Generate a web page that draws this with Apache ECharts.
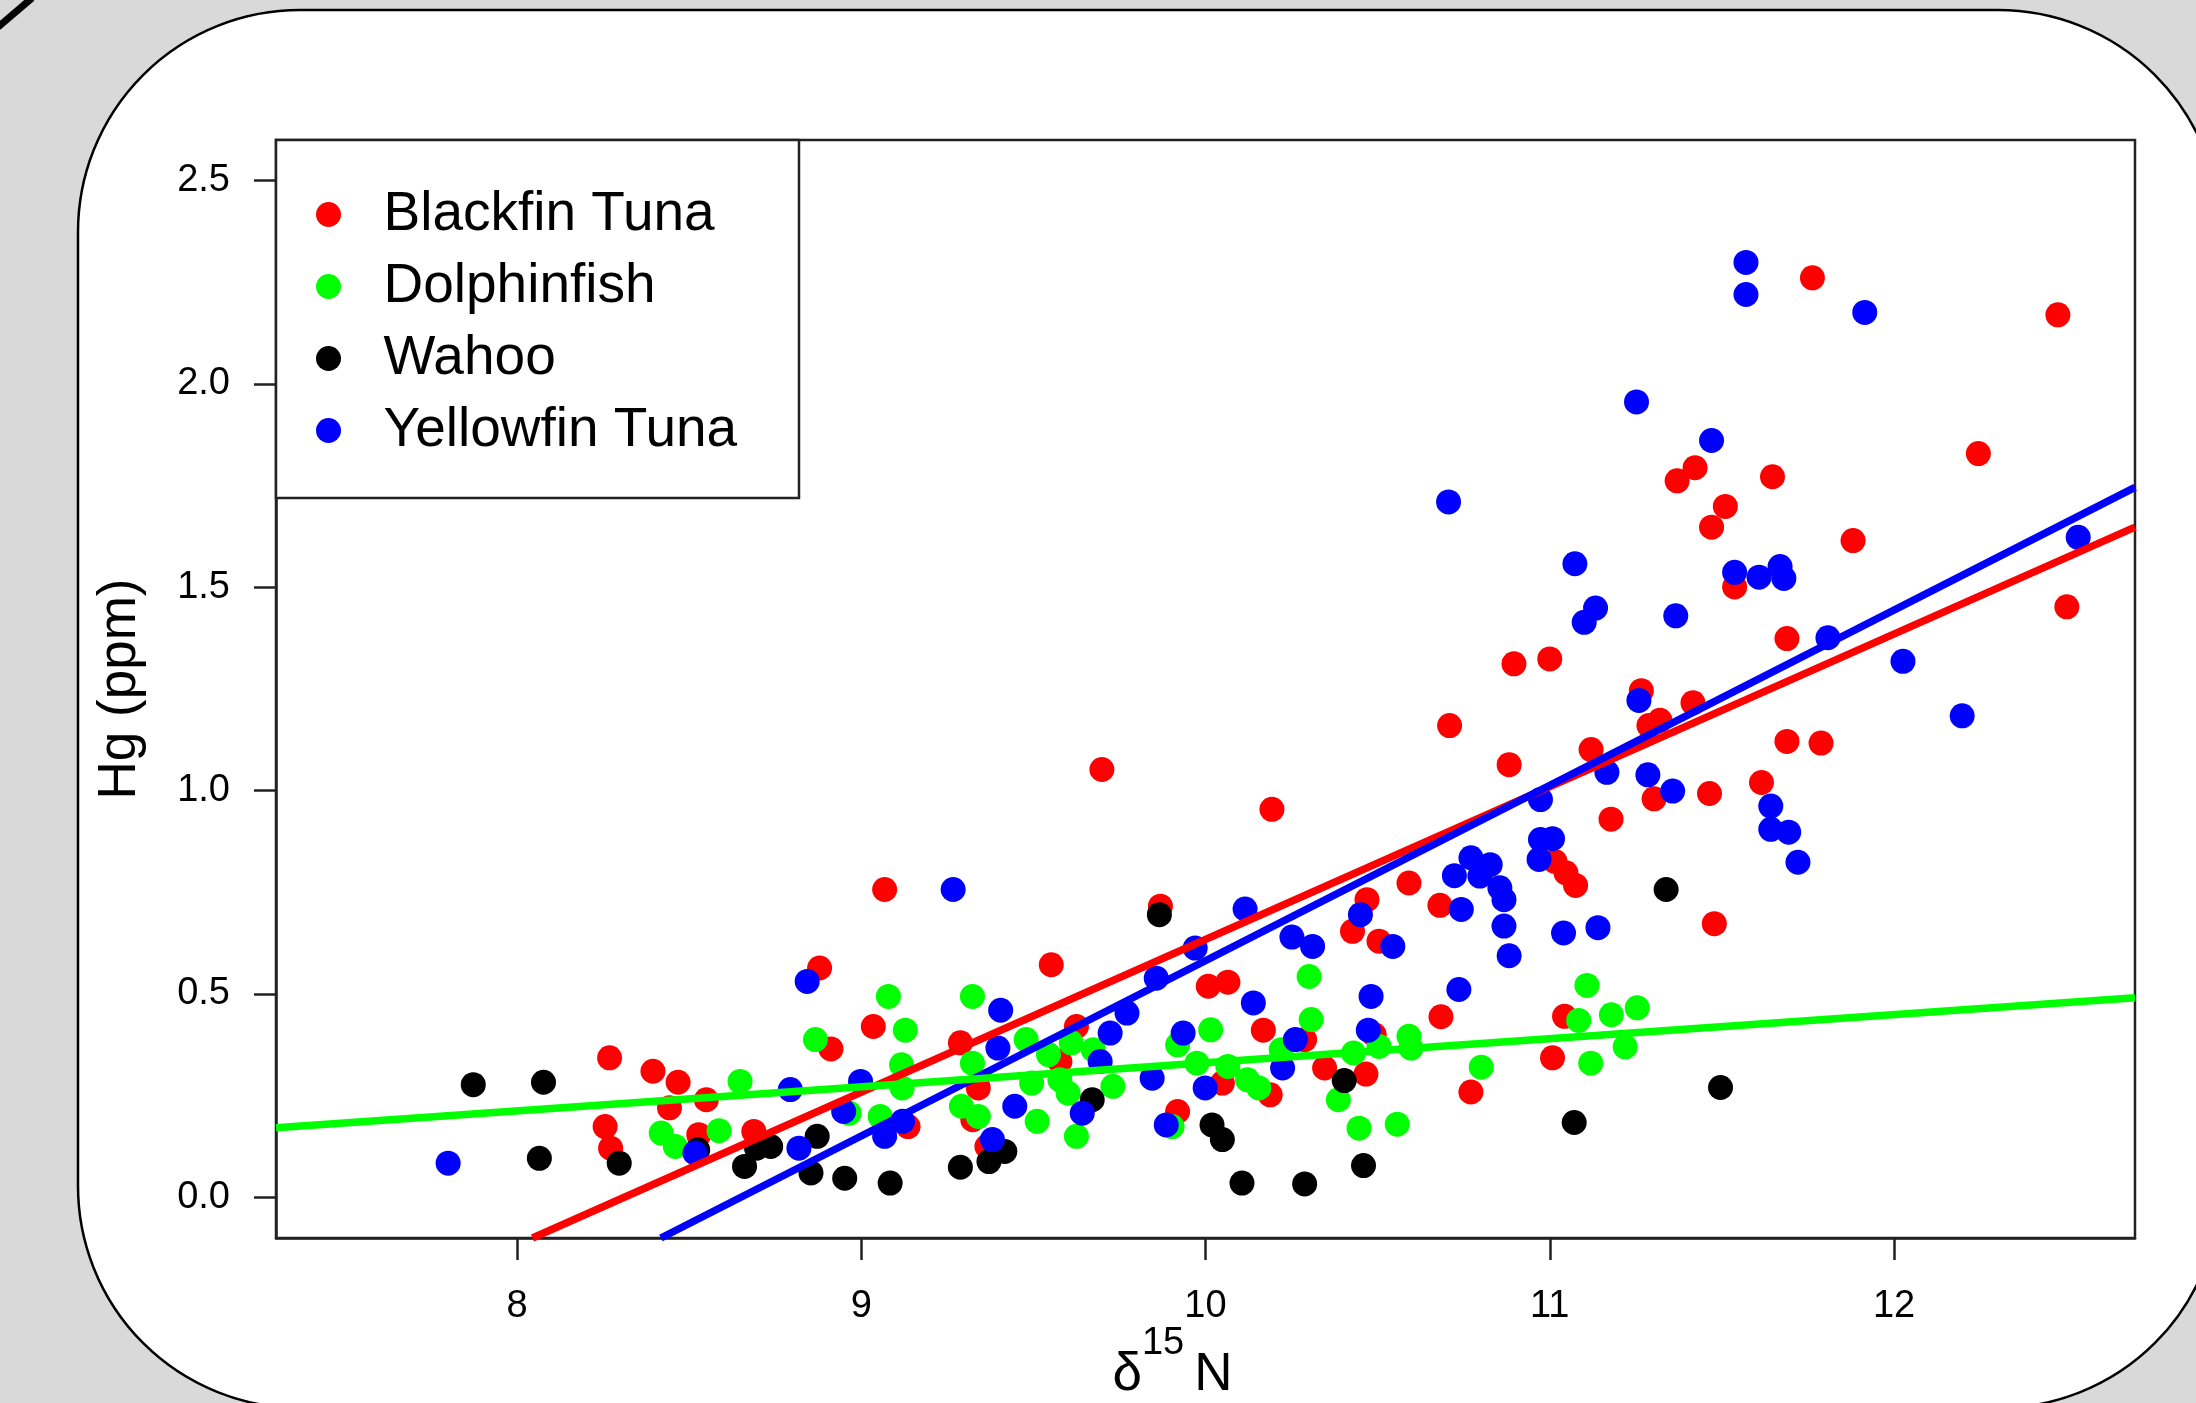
<!DOCTYPE html>
<html>
<head>
<meta charset="utf-8">
<script src="https://cdn.jsdelivr.net/npm/echarts@6/dist/echarts.min.js"></script>
<style>
  html, body { margin: 0; padding: 0; background: #d9d9d9; }
  #chart { width: 2196px; height: 1403px; }
</style>
</head>
<body>
<div id="chart"></div>
<script>
// ---------- data ----------
const seriesNames = ['Blackfin Tuna', 'Dolphinfish', 'Wahoo', 'Yellowfin Tuna'];
const seriesColors = ['#ff0000', '#00ff00', '#000000', '#0000ff'];

const blackfinTuna = [
  [8.269,0.343],[8.395,0.310],[8.468,0.283],[8.550,0.240],[8.443,0.220],[8.256,0.174],[8.272,0.121],
  [8.528,0.154],[8.688,0.162],[8.879,0.564],[8.912,0.365],[9.035,0.420],[9.068,0.757],[9.288,0.380],
  [9.340,0.269],[9.136,0.174],[9.324,0.191],[9.365,0.125],[9.552,0.572],[9.625,0.420],[9.577,0.334],
  [9.699,1.052],[9.869,0.716],[9.919,0.211],[10.008,0.519],[10.065,0.529],[10.049,0.281],[10.168,0.411],
  [10.193,0.954],[10.188,0.252],[10.288,0.388],[10.346,0.318],[10.427,0.654],[10.469,0.732],[10.504,0.630],
  [10.466,0.303],[10.490,0.400],[10.591,0.773],[10.681,0.718],[10.684,0.444],[10.709,1.160],[10.771,0.259],
  [10.882,1.064],[10.896,1.312],[11.000,1.324],[11.008,0.343],[11.015,0.826],[11.043,0.445],[11.047,0.798],
  [11.075,0.767],[11.120,1.101],[11.178,0.930],[11.266,1.246],[11.288,1.160],[11.303,0.980],[11.320,1.173],
  [11.370,1.762],[11.416,1.216],[11.422,1.794],[11.464,0.993],[11.470,1.648],[11.478,0.673],[11.510,1.699],
  [11.537,1.501],[11.615,1.020],[11.647,1.772],[11.689,1.374],[11.689,1.121],[11.763,2.261],[11.788,1.117],
  [11.881,1.615],[12.245,1.829],[12.476,2.170],[12.502,1.452]
];

const dolphinfish = [
  [8.419,0.158],[8.460,0.125],[8.587,0.164],[8.648,0.285],[8.867,0.388],[8.965,0.207],[9.055,0.199],
  [9.079,0.494],[9.128,0.411],[9.117,0.326],[9.119,0.269],[9.291,0.224],[9.323,0.494],[9.323,0.330],
  [9.340,0.199],[9.479,0.388],[9.495,0.281],[9.511,0.187],[9.544,0.351],[9.577,0.289],[9.601,0.256],
  [9.610,0.380],[9.625,0.150],[9.674,0.363],[9.731,0.273],[9.903,0.174],[9.919,0.375],[9.975,0.330],
  [10.015,0.412],[10.065,0.322],[10.122,0.289],[10.155,0.269],[10.220,0.363],[10.301,0.543],[10.307,0.437],
  [10.386,0.240],[10.430,0.355],[10.446,0.170],[10.504,0.371],[10.557,0.180],[10.591,0.396],[10.597,0.367],
  [10.801,0.320],[11.084,0.435],[11.108,0.521],[11.119,0.330],[11.179,0.449],[11.219,0.370],[11.254,0.466]
];

const wahoo = [
  [7.873,0.277],[8.077,0.283],[8.065,0.096],[8.297,0.084],[8.525,0.117],[8.661,0.076],[8.696,0.121],
  [8.737,0.125],[8.854,0.060],[8.872,0.150],[8.952,0.047],[9.084,0.035],[9.288,0.074],[9.371,0.088],
  [9.417,0.113],[9.671,0.240],[9.866,0.695],[10.019,0.178],[10.049,0.142],[10.106,0.035],[10.288,0.033],
  [10.403,0.287],[10.459,0.078],[11.071,0.184],[11.338,0.757],[11.496,0.270]
];

const yellowfinTuna = [
  [7.800,0.084],[8.517,0.109],[8.819,0.121],[8.794,0.265],[8.843,0.531],[8.949,0.211],[8.998,0.285],
  [9.068,0.150],[9.120,0.187],[9.267,0.757],[9.381,0.142],[9.397,0.367],[9.405,0.460],[9.446,0.224],
  [9.642,0.207],[9.694,0.334],[9.723,0.404],[9.772,0.453],[9.845,0.293],[9.857,0.539],[9.886,0.178],
  [9.935,0.404],[9.970,0.613],[9.999,0.269],[10.115,0.709],[10.139,0.478],[10.224,0.318],[10.251,0.640],
  [10.261,0.388],[10.311,0.617],[10.450,0.695],[10.473,0.411],[10.481,0.494],[10.544,0.617],[10.706,1.710],
  [10.723,0.791],[10.736,0.511],[10.743,0.708],[10.771,0.835],[10.797,0.790],[10.827,0.818],[10.855,0.761],
  [10.867,0.732],[10.867,0.667],[10.882,0.594],[10.969,0.831],[10.973,0.880],[10.973,0.978],[11.008,0.882],
  [11.040,0.650],[11.073,1.558],[11.100,1.414],[11.133,1.449],[11.140,0.663],[11.166,1.045],[11.252,1.956],
  [11.259,1.222],[11.285,1.039],[11.357,0.999],[11.366,1.430],[11.470,1.861],[11.537,1.537],[11.570,2.299],
  [11.570,2.220],[11.608,1.525],[11.642,0.962],[11.642,0.905],[11.669,1.551],[11.680,1.522],[11.694,0.898],
  [11.721,0.824],[11.808,1.376],[11.915,2.176],[12.026,1.318],[12.198,1.184],[12.535,1.623]
];

// fitted regression lines (end points read where they meet the plot frame)
const blackfinFit  = [[8.045,-0.1],[12.7,1.648]];
const yellowfinFit = [[8.418,-0.1],[12.7,1.746]];
const dolphinFit   = [[7.3,0.171],[12.7,0.491]];

const xTicks = [8, 9, 10, 11, 12];
const yTicks = [0, 0.5, 1, 1.5, 2, 2.5];
const xRange = [7.3, 12.7];
const yRange = [-0.1, 2.6];

// ---------- chart ----------
const FONT = '"Liberation Sans", Arial, sans-serif';
const chart = echarts.init(document.getElementById('chart'), null, {renderer: 'canvas'});

const pointSeries = [blackfinTuna, dolphinfish, wahoo, yellowfinTuna].map((d, i) => ({
  name: seriesNames[i],
  type: 'scatter',
  data: d,
  symbol: 'circle',
  symbolSize: 25,
  itemStyle: {color: seriesColors[i], opacity: 1},
  z: 2,
  silent: true
}));

const fitSeries = [
  {data: blackfinFit, color: seriesColors[0]},
  {data: yellowfinFit, color: seriesColors[3]},
  {data: dolphinFit, color: seriesColors[1]}
].map(f => ({
  type: 'line',
  data: f.data,
  symbol: 'none',
  lineStyle: {color: f.color, width: 7.5},
  z: 3,
  silent: true
}));

chart.setOption({
  animation: false,
  backgroundColor: '#d9d9d9',
  grid: {
    left: 276, top: 140, width: 1859, height: 1098,
    containLabel: false,
    outerBoundsMode: 'none',
    show: true, borderColor: '#222', borderWidth: 2.5, backgroundColor: 'transparent'
  },
  xAxis: {
    type: 'value', min: xRange[0], max: xRange[1],
    splitLine: {show: false},
    axisLine: {show: true, onZero: false, lineStyle: {color: '#222', width: 2.5}},
    axisTick: {show: true, inside: false, length: 22, customValues: xTicks, lineStyle: {color: '#222', width: 2.5}},
    axisLabel: {customValues: xTicks, fontSize: 38, color: '#000', fontFamily: FONT, margin: 50},
    name: '{d|δ}{s|15}{n|N}',
    nameLocation: 'middle',
    nameGap: 104,
    nameMoveOverlap: false,
    nameTextStyle: {
      padding: [0, 66, 0, 0],
      rich: {
        d: {fontSize: 53, fontFamily: FONT, color: '#000', lineHeight: 60, verticalAlign: 'bottom'},
        s: {fontSize: 38, fontFamily: FONT, color: '#000', lineHeight: 38, verticalAlign: 'bottom', padding: [0, 0, 39, 0]},
        n: {fontSize: 53, fontFamily: FONT, color: '#000', lineHeight: 60, verticalAlign: 'bottom', padding: [0, 0, 0, 10]}
      }
    }
  },
  yAxis: {
    type: 'value', min: yRange[0], max: yRange[1],
    splitLine: {show: false},
    axisLine: {show: true, onZero: false, lineStyle: {color: '#222', width: 2.5}},
    axisTick: {show: true, inside: false, length: 22, customValues: yTicks, lineStyle: {color: '#222', width: 2.5}},
    axisLabel: {customValues: yTicks, fontSize: 38, color: '#000', fontFamily: FONT, margin: 46,
      formatter: v => Number(v).toFixed(1)},
    name: 'Hg (ppm)',
    nameLocation: 'middle',
    nameRotate: 90,
    nameGap: 129,
    nameMoveOverlap: false,
    nameTextStyle: {fontSize: 53, fontFamily: FONT, color: '#000'}
  },
  legend: {
    data: seriesNames,
    orient: 'vertical',
    left: 316, top: 187,
    padding: 0,
    itemWidth: 100, itemHeight: 25, itemGap: 17,
    icon: 'circle',
    symbolKeepAspect: true,
    selectedMode: false,
    textStyle: {fontSize: 55, fontFamily: FONT, color: '#000', lineHeight: 54},
    z: 5
  },
  graphic: [
    {type: 'rect', z: -10, silent: true,
      shape: {x: 78, y: 10, width: 2142, height: 1398, r: 222},
      style: {fill: '#ffffff', stroke: '#000000', lineWidth: 2.5}},
    {type: 'line', z: -9, silent: true,
      shape: {x1: -2, y1: 27, x2: 32, y2: -2},
      style: {stroke: '#000000', lineWidth: 7}},
    {type: 'rect', z: 4, silent: true,
      shape: {x: 276, y: 140, width: 523, height: 358},
      style: {fill: '#ffffff', stroke: '#222', lineWidth: 2.5}}
  ],
  series: pointSeries.concat(fitSeries)
});
</script>
</body>
</html>
